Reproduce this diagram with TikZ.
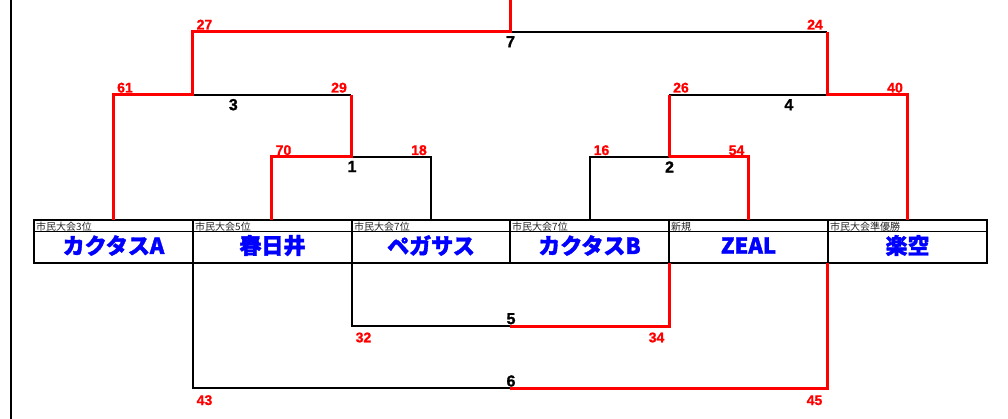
\documentclass[tikz,border=0pt]{standalone}
\usepackage{fontspec}
\setmainfont{Liberation Sans}
\newfontfamily\jp{Noto Sans CJK JP}
\newfontfamily\jpb{Noto Sans CJK JP}[BoldFeatures={FakeBold=1.6}]
\newfontfamily\numf{Liberation Sans}[BoldFeatures={FakeBold=1.2}]
\definecolor{wred}{RGB}{255,0,0}
\definecolor{wblue}{RGB}{0,0,255}
\begin{document}
\begin{tikzpicture}[x=1pt,y=-1pt,
  blk/.style={draw=black,line width=2pt},
  redl/.style={draw=wred,line width=3pt,line join=miter},
  tbl/.style={draw=black,line width=2pt},
  score/.style={text=wred,font=\numf\bfseries\fontsize{14}{14}\selectfont,inner sep=0pt},
  mnum/.style={text=black,font=\numf\bfseries\fontsize{16}{16}\selectfont,inner sep=0pt},
  tname/.style={text=wblue,font=\jpb\bfseries\fontsize{22}{22}\selectfont,inner sep=0pt},
  tlab/.style={text=black!85,font=\jp\fontsize{10}{10}\selectfont,inner sep=0pt,anchor=west}]
\useasboundingbox (0,0) rectangle (1008,419);
% left border line
\coordinate (lt) at (11,0);
\coordinate (lb) at (11,419);
\draw[black,line width=2pt] (lt) -- (lb);

% table
\draw[tbl] (34,220) rectangle (987,263);
\foreach \x in {193,352,510,669,828} \draw[tbl] (\x,220) -- (\x,263);
\draw[black,line width=0.8pt] (34,231.5) -- (987,231.5);

% labels and team names
\node[tlab] (l1) at (36,226.5) {市民大会3位};
\node[tlab] (l2) at (195,226.5) {市民大会5位};
\node[tlab] (l3) at (354,226.5) {市民大会7位};
\node[tlab] (l4) at (512,226.5) {市民大会7位};
\node[tlab] (l5) at (671,226.5) {新規};
\node[tlab] (l6) at (830,226.5) {市民大会準優勝};

\node[tname] (n1) at (113.5,245.5) {カクタスA};
\node[tname] (n2) at (272.5,245.5) {春日井};
\node[tname] (n3) at (431,245.5) {ペガサス};
\node[tname] (n4) at (589.5,245.5) {カクタスB};
\node[tname] (n5) at (748.5,245.5) {ZEAL};
\node[tname] (n6) at (907.5,245.5) {楽空};

% anchor points
\coordinate (t1) at (113,220);
\coordinate (t2) at (271,220);
\coordinate (t3) at (431,220);
\coordinate (t4) at (590,220);
\coordinate (t5) at (748,220);
\coordinate (t6) at (907,220);
\coordinate (b2) at (193,263);
\coordinate (b3) at (352,263);
\coordinate (b5) at (669,263);
\coordinate (b6) at (827,263);
\coordinate (m1) at (351,157);
\coordinate (m2) at (669,157);
\coordinate (m3) at (192,95);
\coordinate (m4) at (827,95);
\coordinate (m7) at (510,32);
\coordinate (top) at (510,0);
\coordinate (m5) at (510,326);
\coordinate (m6) at (510,388);

% black (losing) lines
\draw[blk] (m1) -| (t3);
\draw[blk] (t4) |- (m2);
\draw[blk] (m3) -- (m1 |- m3);
\draw[blk] (m2 |- m4) -- (m4);
\draw[blk] (m7) -- (m4 |- m7);
\draw[blk] (b3) |- (m5);
\draw[blk] (b2) |- (m6);

% red (winning) lines
\draw[redl] (t2) |- (m1) -- (m1 |- m3);
\draw[redl] (m2) -| (t5);
\draw[redl] (m2) -- (m2 |- m4);
\draw[redl] (t1) |- (m3) -- (m3 |- m7) -- (m7) -- (top);
\draw[redl] (t6) |- (m4) -- (m4 |- m7);
\draw[redl] (m5) -| (b5);
\draw[redl] (m6) -| (b6);

% match numbers
\node[mnum] (k1) at (352,166.5) {1};
\node[mnum] (k2) at (669.5,167) {2};
\node[mnum] (k3) at (233.3,104.7) {3};
\node[mnum] (k4) at (788.8,104.7) {4};
\node[mnum] (k7) at (510.5,41.7) {7};
\node[mnum] (k5) at (511,318.7) {5};
\node[mnum] (k6) at (511,381) {6};

% scores
\node[score,anchor=base west] (s70) at (275.5,155) {70};
\node[score,anchor=base east] (s18) at (427,155) {18};
\node[score,anchor=base west] (s16) at (593.5,155) {16};
\node[score,anchor=base east] (s54) at (744.5,155) {54};
\node[score,anchor=base west] (s61) at (117,92.5) {61};
\node[score,anchor=base east] (s29) at (347,92.5) {29};
\node[score,anchor=base west] (s26) at (673,92.5) {26};
\node[score,anchor=base east] (s40) at (903,92.5) {40};
\node[score,anchor=base west] (s27) at (196.5,29.5) {27};
\node[score,anchor=base east] (s24) at (823,29.5) {24};
\node[score,anchor=base west] (s32) at (355.5,342.3) {32};
\node[score,anchor=base east] (s34) at (664.5,342.3) {34};
\node[score,anchor=base west] (s43) at (196.5,405) {43};
\node[score,anchor=base east] (s45) at (822.5,405) {45};
\end{tikzpicture}
\end{document}
